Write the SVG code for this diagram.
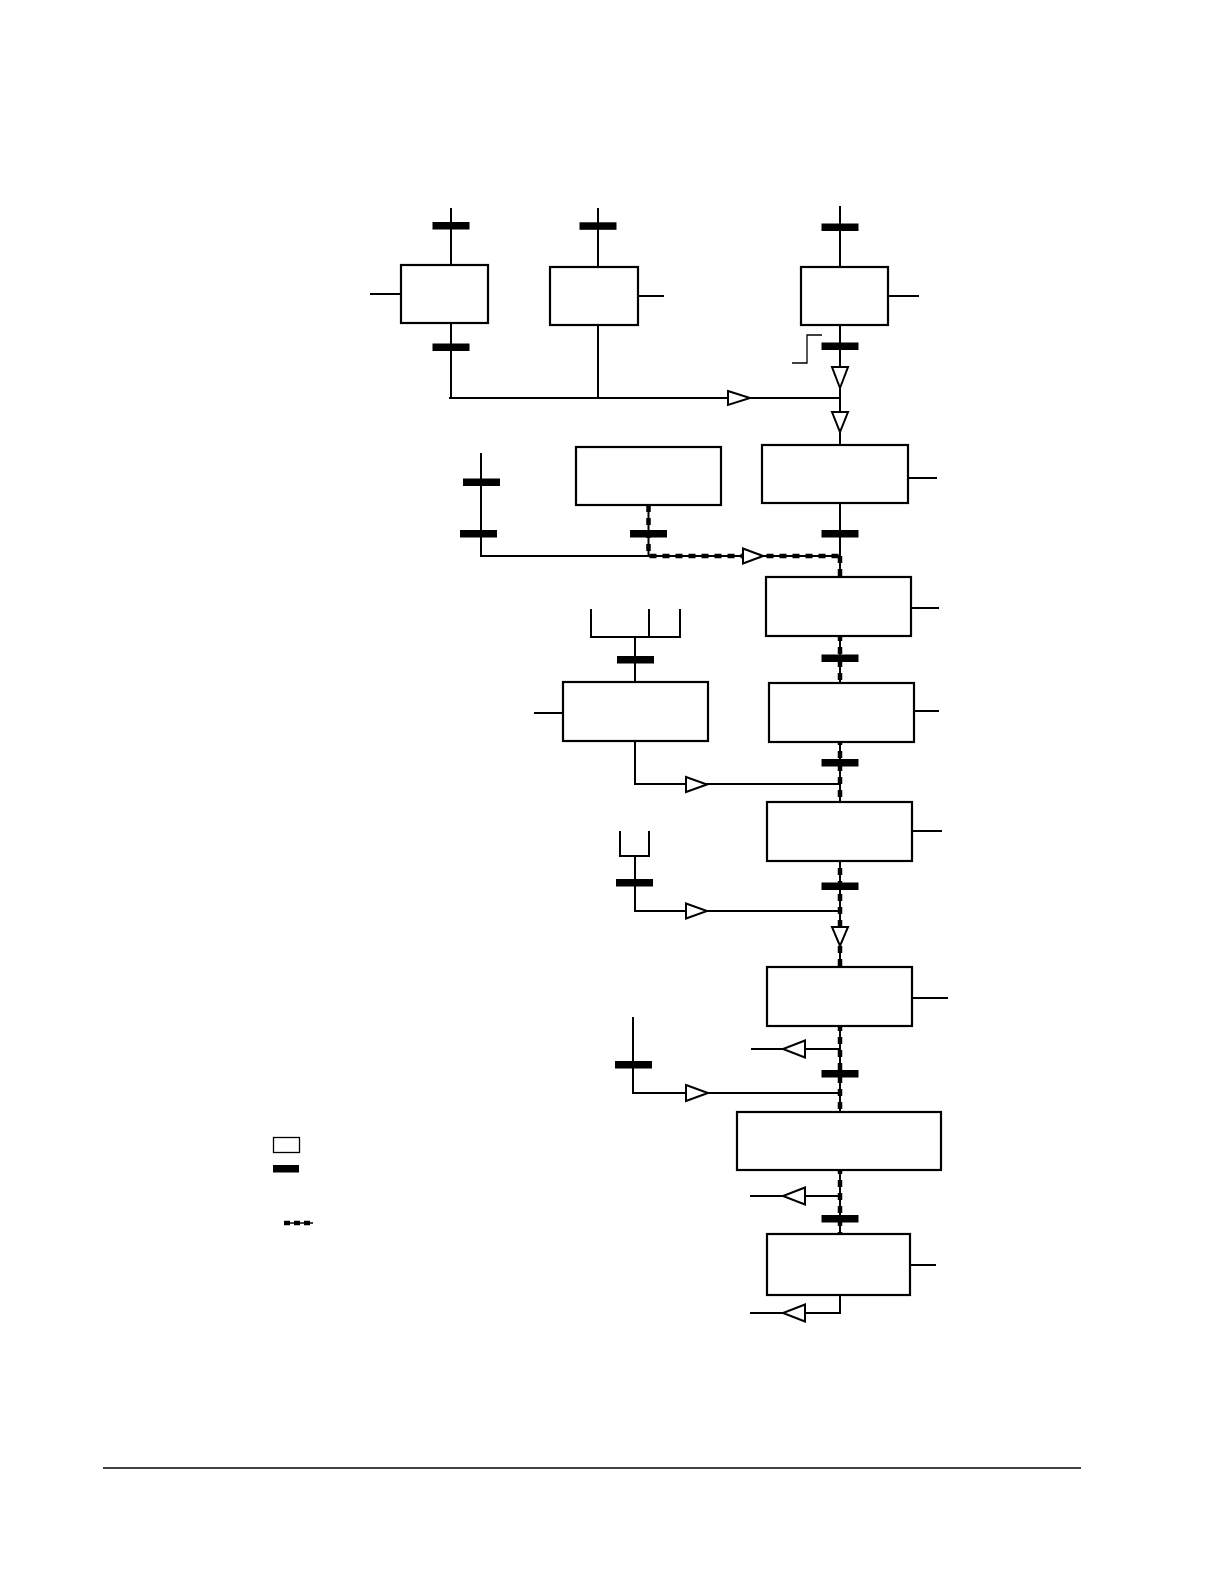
<svg xmlns="http://www.w3.org/2000/svg" width="1224" height="1584" viewBox="0 0 1224 1584">
<style>
.ln{stroke:#000;stroke-width:2;fill:none}
.thin{stroke:#000;stroke-width:1.3;fill:none}
.dash{stroke:#000;stroke-width:4.5;fill:none;stroke-dasharray:7 6}
.box{stroke:#000;stroke-width:2.2;fill:#fff}
.bar{fill:#000}
.tri{stroke:#000;stroke-width:2;fill:#fff;stroke-linejoin:miter}
</style>
<rect width="1224" height="1584" fill="#fff"/>
<g id="connectors">
<path class="ln" d="M451,208V265M451,323V398M449,398H840M370,294H401M598,208V267M598,325V398M638,296H664M840,206V267M840,325V445M888,296H919"/>
<polyline class="thin" points="792,363 807,363 807,335 822,335"/>
<path class="ln" d="M908,478H937M840,503V556M481,453V556H840M648.5,505V556M840,556V1234M911,608H939"/>
<path class="ln" d="M591,609V637H680V609M649,609V637M635,637V682M534,713H563M635,741V784H840M914,711H939M912,831H942"/>
<path class="ln" d="M620,831V856H649V831M635,856V911H840M912,998H948M633,1017V1093H840M751,1049H840M750,1196H840M910,1265H936M840,1295V1313H750"/>
<path class="dash" d="M648.5,505V556H840M840,556V1234"/>
<g id="bars">
<rect class="bar" x="432.5" y="222" width="37" height="7.5"/>
<rect class="bar" x="432.5" y="343.5" width="37" height="7.5"/>
<rect class="bar" x="579.5" y="222.3" width="37" height="7.5"/>
<rect class="bar" x="821.5" y="223.5" width="37" height="7.5"/>
<rect class="bar" x="821.5" y="342.5" width="37" height="7.5"/>
<rect class="bar" x="463" y="478.5" width="37" height="7.5"/>
<rect class="bar" x="460" y="530" width="37" height="7.5"/>
<rect class="bar" x="630" y="530" width="37" height="7.5"/>
<rect class="bar" x="821.5" y="530" width="37" height="7.5"/>
<rect class="bar" x="617" y="656" width="37" height="7.5"/>
<rect class="bar" x="821.5" y="654.5" width="37" height="7.5"/>
<rect class="bar" x="821.5" y="759" width="37" height="7.5"/>
<rect class="bar" x="616" y="879" width="37" height="7.5"/>
<rect class="bar" x="821.5" y="882.5" width="37" height="7.5"/>
<rect class="bar" x="615" y="1061" width="37" height="7.5"/>
<rect class="bar" x="821.5" y="1070" width="37" height="7.5"/>
<rect class="bar" x="821.5" y="1215" width="37" height="7.5"/>
</g>
<g id="arrows">
<polygon class="tri" points="728,391 750,398 728,405"/>
<polygon class="tri" points="832,367 848,367 840,388"/>
<polygon class="tri" points="832,412 848,412 840,432"/>
<polygon class="tri" points="743,548.5 763,556 743,563.5"/>
<polygon class="tri" points="686,777 707,784.5 686,792"/>
<polygon class="tri" points="686,903.5 707,911 686,918.5"/>
<polygon class="tri" points="832,927 848,927 840,946"/>
<polygon class="tri" points="805,1040.5 783,1049 805,1057.5"/>
<polygon class="tri" points="686,1085 708,1093 686,1101"/>
<polygon class="tri" points="805,1187.5 783,1196 805,1204.5"/>
<polygon class="tri" points="805,1304.5 783,1313 805,1321.5"/>
</g>
</g>
<g id="n1"><rect class="box" x="401" y="265" width="87" height="58"/></g>
<g id="n2"><rect class="box" x="550" y="267" width="88" height="58"/></g>
<g id="n3"><rect class="box" x="801" y="267" width="87" height="58"/></g>
<g id="n4"><rect class="box" x="762" y="445" width="146" height="58"/></g>
<g id="n5"><rect class="box" x="576" y="447" width="145" height="58"/></g>
<g id="n6"><rect class="box" x="766" y="577" width="145" height="59"/></g>
<g id="n7"><rect class="box" x="563" y="682" width="145" height="59"/></g>
<g id="n8"><rect class="box" x="769" y="683" width="145" height="59"/></g>
<g id="n9"><rect class="box" x="767" y="802" width="145" height="59"/></g>
<g id="n10"><rect class="box" x="767" y="967" width="145" height="59"/></g>
<g id="n11"><rect class="box" x="737" y="1112" width="204" height="58"/></g>
<g id="n12"><rect class="box" x="767" y="1234" width="143" height="61"/></g>
<g id="legend">
<rect x="273.5" y="1137.5" width="26" height="15" fill="#fff" stroke="#000" stroke-width="1.3"/>
<rect class="bar" x="273" y="1165" width="26" height="7.5"/>
<line x1="284" y1="1223" x2="313" y2="1223" stroke="#000" stroke-width="1.5"/>
<line x1="284" y1="1223" x2="313" y2="1223" stroke="#000" stroke-width="4.5" stroke-dasharray="6 4"/>
</g>
<line id="footer" x1="103" y1="1468" x2="1081" y2="1468" stroke="#000" stroke-width="1.3"/>
</svg>
